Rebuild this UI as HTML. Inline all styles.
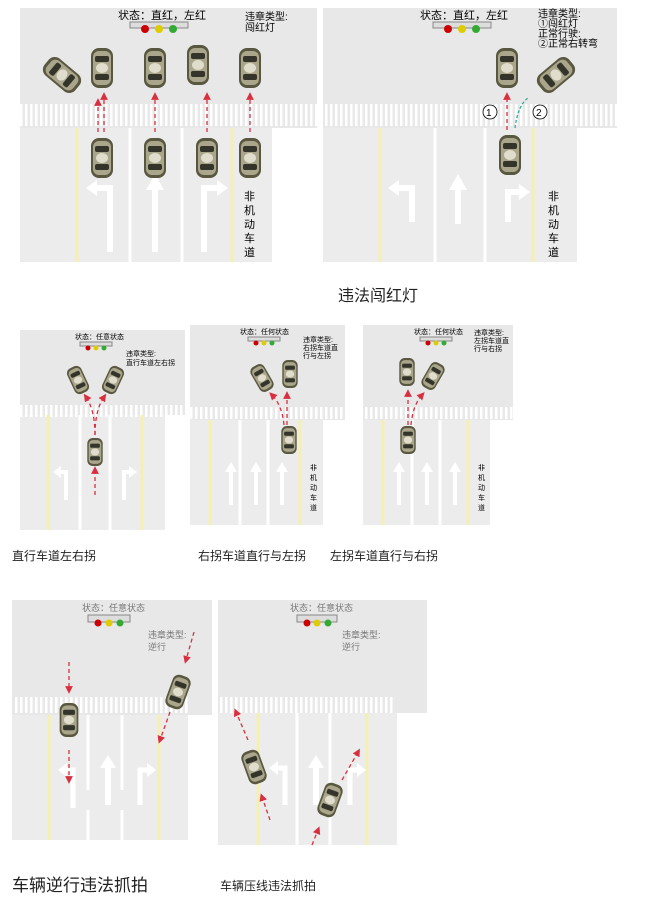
<!DOCTYPE html>
<html><head><meta charset="utf-8"><style>
body{margin:0;background:#fff;width:667px;height:900px;overflow:hidden;font-family:"Liberation Sans","Noto Sans CJK SC",sans-serif}
svg{position:absolute;left:0;top:0}
.t{font-family:"Liberation Sans","Noto Sans CJK SC",sans-serif}
</style></head><body>
<svg width="667" height="900" viewBox="0 0 667 900">
<defs>
<g id="car">
<rect x="-11" y="-20" width="22" height="40" rx="8" fill="#59573f"/>
<rect x="-9" y="-17" width="18" height="34" rx="6" fill="#aaa68c"/>
<rect x="-7" y="-12" width="14" height="6" rx="2" fill="#34342a"/>
<rect x="-7" y="6" width="14" height="6" rx="2" fill="#34342a"/>
<ellipse cx="0" cy="0" rx="6" ry="5" fill="#e0ddcc"/>
</g>
<pattern id="cw" width="5" height="20" patternUnits="userSpaceOnUse"><rect width="2.5" height="20" fill="#fff"/></pattern>
<marker id="ar" markerWidth="6" markerHeight="6" refX="3" refY="3" orient="auto"><path d="M0,0L6,3L0,6z" fill="#d83040"/></marker>
</defs>
<style>.d{stroke:#d83040;stroke-width:1.3;stroke-dasharray:4 3;fill:none;marker-end:url(#ar)}.y{stroke:#f4f0b0;stroke-width:3}.w{stroke:#fff;stroke-width:3}.a{fill:#fff}.s{stroke:#fff;fill:none}</style>

<!-- Panel 1 -->
<rect x="20" y="8" width="297" height="120" fill="#e8e8e8"/>
<rect x="20" y="128" width="252" height="134" fill="#ececec"/>
<rect x="20" y="104" width="297" height="22" fill="url(#cw)"/>
<line class="y" x1="77" y1="128" x2="77" y2="262"/><line class="y" x1="232" y1="128" x2="232" y2="262"/>
<line class="w" x1="130" y1="128" x2="130" y2="262"/><line class="w" x1="182" y1="128" x2="182" y2="262"/>
<rect x="130" y="22" width="58" height="6" fill="#ddd" stroke="#888"/>
<circle cx="145" cy="29" r="4" fill="#c00"/><circle cx="159" cy="29" r="4" fill="#dc0"/><circle cx="173" cy="29" r="4" fill="#3a3"/>
<text class="t" x="118" y="19" font-size="11">状态：直红，左红</text>
<text class="t" x="245" y="20" font-size="10">违章类型:</text><text class="t" x="245" y="31" font-size="10">闯红灯</text>
<path class="s" stroke-width="6" d="M110 252 V188 H96"/><path class="a" d="M86 188 L97 180 V196z"/>
<rect x="152" y="188" width="6" height="64" class="a"/><path d="M146 190 L155 174 L164 190z" class="a"/>
<path class="s" stroke-width="6" d="M204 252 V188 H218"/><path class="a" d="M228 188 L217 180 V196z"/>
<text class="t" x="244" y="200" font-size="11">非</text><text class="t" x="244" y="214" font-size="11">机</text><text class="t" x="244" y="228" font-size="11">动</text><text class="t" x="244" y="242" font-size="11">车</text><text class="t" x="244" y="256" font-size="11">道</text>
<use href="#car" transform="translate(62,75) rotate(-50)"/>
<use href="#car" x="102" y="68"/><use href="#car" x="155" y="68"/><use href="#car" x="198" y="65"/><use href="#car" x="250" y="68"/>
<use href="#car" x="102" y="158"/><use href="#car" x="155" y="158"/><use href="#car" x="207" y="158"/><use href="#car" x="250" y="158"/>
<path class="d" d="M98 132 V102"/><path class="d" d="M104 132 V96"/><path class="d" d="M155 132 V96"/><path class="d" d="M207 132 V96"/><path class="d" d="M250 132 V96"/>

<!-- Panel 2 -->
<rect x="323" y="8" width="294" height="120" fill="#e8e8e8"/>
<rect x="323" y="128" width="254" height="134" fill="#ececec"/>
<rect x="323" y="104" width="294" height="22" fill="url(#cw)"/>
<line class="y" x1="380" y1="128" x2="380" y2="262"/><line class="y" x1="533" y1="128" x2="533" y2="262"/>
<line class="w" x1="435" y1="128" x2="435" y2="262"/><line class="w" x1="485" y1="128" x2="485" y2="262"/>
<rect x="433" y="22" width="58" height="6" fill="#ddd" stroke="#888"/>
<circle cx="448" cy="29" r="4" fill="#c00"/><circle cx="462" cy="29" r="4" fill="#dc0"/><circle cx="476" cy="29" r="4" fill="#3a3"/>
<text class="t" x="420" y="19" font-size="11">状态：直红，左红</text>
<text class="t" x="538" y="17" font-size="10">违章类型:</text><text class="t" x="538" y="27" font-size="10">①闯红灯</text><text class="t" x="538" y="37" font-size="10">正常行驶:</text><text class="t" x="538" y="47" font-size="10">②正常右转弯</text>
<path class="s" stroke-width="6" d="M412 222 V188 H398"/><path class="a" d="M388 188 L399 180 V196z"/>
<rect x="455" y="188" width="6" height="36" class="a"/><path d="M449 190 L458 174 L467 190z" class="a"/>
<path class="s" stroke-width="6" d="M508 222 V192 H520"/><path class="a" d="M530 192 L519 184 V200z"/>
<text class="t" x="548" y="200" font-size="11">非</text><text class="t" x="548" y="214" font-size="11">机</text><text class="t" x="548" y="228" font-size="11">动</text><text class="t" x="548" y="242" font-size="11">车</text><text class="t" x="548" y="256" font-size="11">道</text>
<use href="#car" x="507" y="68"/><use href="#car" transform="translate(556,75) rotate(50)"/><use href="#car" x="510" y="155"/>
<path class="d" d="M507 130 V96"/><path d="M515 128 Q518 105 528 98" stroke="#3a9" stroke-dasharray="3 2" fill="none" stroke-width="1.3"/>
<circle cx="490" cy="112" r="7" fill="#fff" stroke="#000" stroke-width=".8"/><text x="486" y="116" font-size="10">1</text>
<circle cx="540" cy="112" r="7" fill="#fff" stroke="#000" stroke-width=".8"/><text x="536" y="116" font-size="10">2</text>
<text class="t" x="338" y="301" font-size="16" fill="#222">违法闯红灯</text>

<!-- Panel 3 -->
<rect x="20" y="330" width="165" height="85" fill="#e8e8e8"/>
<rect x="20" y="415" width="145" height="115" fill="#ececec"/>
<rect x="20" y="405" width="165" height="12" fill="url(#cw)"/>
<line class="y" x1="48" y1="415" x2="48" y2="530"/><line class="y" x1="142" y1="415" x2="142" y2="530"/>
<line class="w" x1="80" y1="415" x2="80" y2="530"/><line class="w" x1="110" y1="415" x2="110" y2="530"/>
<rect x="80" y="342" width="32" height="4" fill="#ddd" stroke="#888"/>
<circle cx="88" cy="348" r="2.5" fill="#c00"/><circle cx="96" cy="348" r="2.5" fill="#dc0"/><circle cx="104" cy="348" r="2.5" fill="#3a3"/>
<text class="t" x="75" y="339" font-size="7">状态：任意状态</text>
<text class="t" x="126" y="356" font-size="7">违章类型:</text><text class="t" x="126" y="365" font-size="7">直行车道左右拐</text>
<path class="s" stroke-width="4" d="M66 500 V472 H60"/><path class="a" d="M53 472 L61 466 V478z"/>
<path class="s" stroke-width="4" d="M124 500 V472 H130"/><path class="a" d="M137 472 L129 466 V478z"/>
<use href="#car" transform="translate(78,380) rotate(-25) scale(.7)"/><use href="#car" transform="translate(113,380) rotate(25) scale(.7)"/><use href="#car" transform="translate(95,452) scale(.7)"/>
<path class="d" d="M95 495 V470"/><path class="d" d="M95 435 Q95 410 86 397"/><path class="d" d="M95 435 Q95 410 104 397"/>

<!-- Panel 4 -->
<rect x="190" y="325" width="155" height="95" fill="#e8e8e8"/>
<rect x="190" y="420" width="133" height="105" fill="#ececec"/>
<rect x="190" y="407" width="155" height="12" fill="url(#cw)"/>
<line class="y" x1="210" y1="420" x2="210" y2="525"/><line class="y" x1="300" y1="420" x2="300" y2="525"/>
<line class="w" x1="240" y1="420" x2="240" y2="525"/><line class="w" x1="268" y1="420" x2="268" y2="525"/>
<rect x="248" y="337" width="32" height="4" fill="#ddd" stroke="#888"/>
<circle cx="256" cy="343" r="2.5" fill="#c00"/><circle cx="264" cy="343" r="2.5" fill="#dc0"/><circle cx="272" cy="343" r="2.5" fill="#3a3"/>
<text class="t" x="240" y="334" font-size="7">状态：任何状态</text>
<text class="t" x="303" y="342" font-size="7">违章类型:</text><text class="t" x="303" y="350" font-size="7">右拐车道直</text><text class="t" x="303" y="358" font-size="7">行与左拐</text>
<rect x="229" y="470" width="4" height="35" class="a"/><path class="a" d="M225 472 L231 462 L237 472z"/>
<rect x="254" y="470" width="4" height="35" class="a"/><path class="a" d="M250 472 L256 462 L262 472z"/>
<rect x="280" y="470" width="4" height="35" class="a"/><path class="a" d="M276 472 L282 462 L288 472z"/>
<text class="t" x="310" y="470" font-size="7">非</text><text class="t" x="310" y="480" font-size="7">机</text><text class="t" x="310" y="490" font-size="7">动</text><text class="t" x="310" y="500" font-size="7">车</text><text class="t" x="310" y="510" font-size="7">道</text>
<use href="#car" transform="translate(262,378) rotate(-30) scale(.7)"/><use href="#car" transform="translate(290,374) scale(.7)"/><use href="#car" transform="translate(289,440) scale(.7)"/>
<path class="d" d="M287 425 V395"/><path class="d" d="M284 425 Q282 405 272 395"/>

<!-- Panel 5 -->
<rect x="363" y="325" width="150" height="95" fill="#e8e8e8"/>
<rect x="363" y="420" width="127" height="105" fill="#ececec"/>
<rect x="363" y="407" width="150" height="12" fill="url(#cw)"/>
<line class="y" x1="383" y1="420" x2="383" y2="525"/><line class="y" x1="468" y1="420" x2="468" y2="525"/>
<line class="w" x1="412" y1="420" x2="412" y2="525"/><line class="w" x1="440" y1="420" x2="440" y2="525"/>
<rect x="420" y="337" width="32" height="4" fill="#ddd" stroke="#888"/>
<circle cx="428" cy="343" r="2.5" fill="#c00"/><circle cx="436" cy="343" r="2.5" fill="#dc0"/><circle cx="444" cy="343" r="2.5" fill="#3a3"/>
<text class="t" x="414" y="334" font-size="7">状态：任何状态</text>
<text class="t" x="474" y="335" font-size="7">违章类型:</text><text class="t" x="474" y="343" font-size="7">左拐车道直</text><text class="t" x="474" y="351" font-size="7">行与右拐</text>
<rect x="397" y="470" width="4" height="35" class="a"/><path class="a" d="M393 472 L399 462 L405 472z"/>
<rect x="425" y="470" width="4" height="35" class="a"/><path class="a" d="M421 472 L427 462 L433 472z"/>
<rect x="453" y="470" width="4" height="35" class="a"/><path class="a" d="M449 472 L455 462 L461 472z"/>
<text class="t" x="478" y="470" font-size="7">非</text><text class="t" x="478" y="480" font-size="7">机</text><text class="t" x="478" y="490" font-size="7">动</text><text class="t" x="478" y="500" font-size="7">车</text><text class="t" x="478" y="510" font-size="7">道</text>
<use href="#car" transform="translate(407,372) scale(.7)"/><use href="#car" transform="translate(433,376) rotate(30) scale(.7)"/><use href="#car" transform="translate(408,440) scale(.7)"/>
<path class="d" d="M408 425 V393"/><path class="d" d="M411 425 Q413 405 422 395"/>

<text class="t" x="12" y="560" font-size="12" fill="#222">直行车道左右拐</text>
<text class="t" x="198" y="560" font-size="12" fill="#222">右拐车道直行与左拐</text>
<text class="t" x="330" y="560" font-size="12" fill="#222">左拐车道直行与右拐</text>

<!-- Panel 6 -->
<rect x="12" y="600" width="200" height="115" fill="#e8e8e8"/>
<rect x="12" y="715" width="176" height="125" fill="#ececec"/>
<rect x="15" y="697" width="175" height="16" fill="url(#cw)"/>
<line class="y" x1="49" y1="715" x2="49" y2="840"/><line class="y" x1="159" y1="715" x2="159" y2="840"/>
<line class="w" x1="88" y1="715" x2="88" y2="790"/><line class="w" x1="122" y1="715" x2="122" y2="790"/>
<line class="w" x1="88" y1="810" x2="88" y2="840"/><line class="w" x1="122" y1="810" x2="122" y2="840"/>
<rect x="88" y="615" width="42" height="7" fill="#ddd" stroke="#888"/>
<circle cx="98" cy="623" r="3.5" fill="#c00"/><circle cx="109" cy="623" r="3.5" fill="#dc0"/><circle cx="120" cy="623" r="3.5" fill="#3a3"/>
<text class="t" x="82" y="611" font-size="9" fill="#777">状态：任意状态</text>
<text class="t" x="148" y="638" font-size="9" fill="#777">违章类型:</text><text class="t" x="148" y="650" font-size="9" fill="#777">逆行</text>
<path class="s" stroke-width="5" d="M73 808 V770 H66"/><path class="a" d="M58 770 L67 763 V777z"/>
<rect x="105" y="765" width="6" height="40" class="a"/><path d="M100 768 L108 755 L116 768z" class="a"/>
<path class="s" stroke-width="5" d="M140 805 V770 H148"/><path class="a" d="M156 770 L147 763 V777z"/>
<use href="#car" transform="translate(69,720) scale(.85)"/><use href="#car" transform="translate(178,692) rotate(20) scale(.85)"/>
<path class="d" d="M69 662 V690"/><path class="d" d="M69 750 V780"/><path class="d" d="M194 632 L186 660"/><path class="d" d="M170 712 L160 740"/>

<!-- Panel 7 -->
<rect x="218" y="600" width="209" height="113" fill="#e8e8e8"/>
<rect x="218" y="713" width="179" height="132" fill="#ececec"/>
<rect x="220" y="697" width="175" height="16" fill="url(#cw)"/>
<line class="y" x1="258" y1="713" x2="258" y2="845"/><line class="y" x1="367" y1="713" x2="367" y2="845"/>
<line class="w" x1="297" y1="713" x2="297" y2="845"/><line class="w" x1="330" y1="713" x2="330" y2="845"/>
<rect x="297" y="615" width="40" height="7" fill="#ddd" stroke="#888"/>
<circle cx="307" cy="623" r="3.5" fill="#c00"/><circle cx="317" cy="623" r="3.5" fill="#dc0"/><circle cx="328" cy="623" r="3.5" fill="#3a3"/>
<text class="t" x="290" y="611" font-size="9" fill="#777">状态：任意状态</text>
<text class="t" x="342" y="638" font-size="9" fill="#777">违章类型:</text><text class="t" x="342" y="650" font-size="9" fill="#777">逆行</text>
<path class="s" stroke-width="5" d="M285 805 V768 H277"/><path class="a" d="M269 768 L278 761 V775z"/>
<rect x="313" y="765" width="6" height="40" class="a"/><path d="M308 768 L316 755 L324 768z" class="a"/>
<path class="s" stroke-width="5" d="M350 805 V770 H358"/><path class="a" d="M366 770 L357 763 V777z"/>
<use href="#car" transform="translate(254,767) rotate(-20) scale(.85)"/><use href="#car" transform="translate(330,800) rotate(20) scale(.85)"/>
<path class="d" d="M248 740 L236 712"/><path class="d" d="M270 820 L262 797"/><path class="d" d="M342 780 L358 752"/><path class="d" d="M312 845 L318 830"/>

<text class="t" x="12" y="891" font-size="17" fill="#222">车辆逆行违法抓拍</text>
<text class="t" x="220" y="890" font-size="12" fill="#222">车辆压线违法抓拍</text>
</svg>
</body></html>
